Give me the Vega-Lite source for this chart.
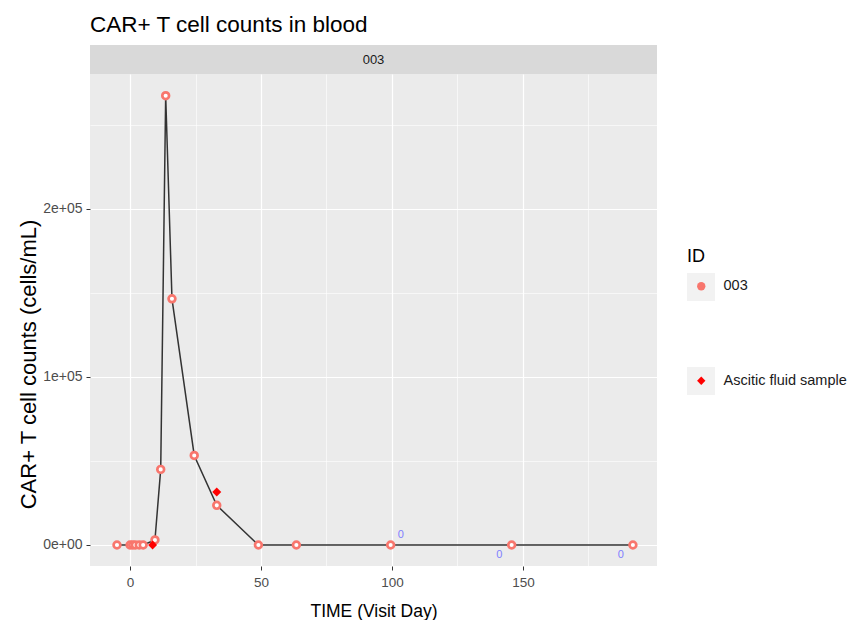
{
  "$schema": "https://vega.github.io/schema/vega-lite/v6.json",
  "background": "white",
  "padding": {"left": 17, "top": 13, "right": 5, "bottom": 0},
  "title": {"text": "CAR+ T cell counts in blood", "anchor": "start", "frame": "group", "fontSize": 22.5, "fontWeight": "normal", "color": "#000000", "offset": 9, "font": "Liberation Sans"},
  "datasets": {
    "blood": [
      {"ID": "003", "day": -5, "count": 0},
      {"ID": "003", "day": 0, "count": 0},
      {"ID": "003", "day": 1, "count": 0},
      {"ID": "003", "day": 2, "count": 0},
      {"ID": "003", "day": 3.5, "count": 0},
      {"ID": "003", "day": 5, "count": 0},
      {"ID": "003", "day": 9.5, "count": 3000},
      {"ID": "003", "day": 11.7, "count": 45000},
      {"ID": "003", "day": 13.6, "count": 267400},
      {"ID": "003", "day": 16, "count": 146500},
      {"ID": "003", "day": 24.5, "count": 53300},
      {"ID": "003", "day": 33.1, "count": 23600},
      {"ID": "003", "day": 49, "count": 0},
      {"ID": "003", "day": 63.5, "count": 0},
      {"ID": "003", "day": 99.5, "count": 0},
      {"ID": "003", "day": 145.7, "count": 0},
      {"ID": "003", "day": 192, "count": 0}
    ],
    "ascitic": [
      {"ID": "Ascitic fluid sample", "day": 8.6, "count": 0},
      {"ID": "Ascitic fluid sample", "day": 33.1, "count": 31500}
    ],
    "zeros": [
      {"day": 103.4, "count": 5800, "label": "0"},
      {"day": 141, "count": -6100, "label": "0"},
      {"day": 187.4, "count": -6100, "label": "0"}
    ],
    "keys": [{"key": "k1"}, {"key": "k2"}],
    "strip": [{"ID": "003"}]
  },
  "spacing": 0,
  "vconcat": [
    {
      "width": 567,
      "height": 29,
      "view": {"fill": "#D9D9D9", "stroke": null},
      "data": {"name": "strip"},
      "mark": {"type": "text", "fontSize": 13, "color": "#1A1A1A", "font": "Liberation Sans"},
      "encoding": {"text": {"field": "ID"}}
    },
    {
      "width": 567,
      "height": 492,
      "view": {"fill": "#EBEBEB", "stroke": null},
      "layer": [
        {
          "data": {"name": "blood"},
          "mark": {"type": "line", "color": "#333333", "strokeWidth": 1.5},
          "encoding": {
            "x": {"field": "day", "type": "quantitative", "scale": {"domain": [-15.3, 201.2], "nice": false, "zero": false},
              "axis": {"orient": "top", "values": [25, 75, 125, 175], "grid": true, "gridColor": "#FFFFFF", "gridWidth": 0.6, "labels": false, "ticks": false, "domain": false, "title": null}},
            "y": {"field": "count", "type": "quantitative", "scale": {"domain": [-12500, 280300], "nice": false, "zero": false},
              "axis": {"orient": "right", "values": [50000, 150000, 250000], "grid": true, "gridColor": "#FFFFFF", "gridWidth": 0.6, "labels": false, "ticks": false, "domain": false, "title": null}}
          }
        },
        {
          "data": {"name": "keys"},
          "mark": {"type": "point", "shape": "square", "filled": true, "opacity": 0},
          "encoding": {
            "fill": {"field": "key", "type": "nominal", "scale": {"domain": ["k1", "k2"], "range": ["#F2F2F2", "#F2F2F2"]},
              "legend": {"orient": "none", "legendX": 597, "legendY": 203, "zindex": 0, "title": "ID", "titleFontSize": 18, "titleFontWeight": "normal", "titleColor": "#000000", "titlePadding": 7, "symbolType": "square", "symbolSize": 784, "symbolStrokeWidth": 0, "rowPadding": 66, "labelExpr": "''", "labelFontSize": 14.5,
                "encode": {"symbols": {"update": {"opacity": {"value": 1}, "fill": {"value": "#F2F2F2"}, "strokeWidth": {"value": 0}}}}}}
          }
        },
        {
          "data": {"name": "blood"},
          "mark": {"type": "point", "shape": "circle", "filled": false, "fill": "#FFFFFF", "fillOpacity": 1, "strokeWidth": 2.7, "size": 46, "opacity": 1},
          "encoding": {
            "x": {"field": "day", "type": "quantitative",
              "axis": {"orient": "bottom", "values": [0, 50, 100, 150], "grid": true, "gridColor": "#FFFFFF", "gridWidth": 1.2, "domain": false, "tickColor": "#333333", "tickSize": 4, "labelColor": "#4D4D4D", "labelFontSize": 13.5, "labelPadding": 5, "title": "TIME (Visit Day)", "titleFontSize": 17.5, "titleColor": "#000000", "titlePadding": 14, "titleFontWeight": "normal"}},
            "y": {"field": "count", "type": "quantitative",
              "axis": {"orient": "left", "values": [0, 100000, 200000], "labelExpr": "replace(format(datum.value, '.0e'), 'e+', 'e+0')", "grid": true, "gridColor": "#FFFFFF", "gridWidth": 1.2, "domain": false, "tickColor": "#333333", "tickSize": 4, "labelColor": "#4D4D4D", "labelFontSize": 14, "labelPadding": 4, "title": "CAR+ T cell counts (cells/mL)", "titleFontSize": 22, "titleColor": "#000000", "titlePadding": 2, "titleY": 290, "titleFontWeight": "normal"}},
            "color": {"field": "ID", "type": "nominal", "scale": {"domain": ["003", "Ascitic fluid sample"], "range": ["#F8766D", "#FF0000"]},
              "legend": {"orient": "none", "legendX": 604, "legendY": 234, "zindex": 1, "title": null, "labelFontSize": 14.5, "labelColor": "#1A1A1A", "symbolSize": 70, "symbolStrokeWidth": 0, "rowPadding": 79.5, "labelOffset": 15,
                "encode": {
                  "symbols": {"update": {"fill": {"scale": "color", "field": "value"}, "strokeWidth": {"value": 0}, "opacity": {"value": 1}}}
                }}}
          }
        },
        {
          "data": {"name": "ascitic"},
          "mark": {"type": "point", "filled": true, "size": 80, "opacity": 1},
          "encoding": {
            "x": {"field": "day", "type": "quantitative", "axis": null},
            "y": {"field": "count", "type": "quantitative", "axis": null},
            "color": {"field": "ID", "type": "nominal"},
            "shape": {"field": "ID", "type": "nominal", "scale": {"domain": ["003", "Ascitic fluid sample"], "range": ["circle", "diamond"]}}
          }
        },
        {
          "data": {"name": "zeros"},
          "mark": {"type": "text", "fontSize": 11, "color": "#7F7FFF", "font": "Liberation Sans"},
          "encoding": {
            "x": {"field": "day", "type": "quantitative", "axis": null},
            "y": {"field": "count", "type": "quantitative", "axis": null},
            "text": {"field": "label"}
          }
        }
      ],
      "resolve": {"axis": {"x": "independent", "y": "independent"}}
    }
  ],
  "config": {
    "font": "Liberation Sans",
    "view": {"stroke": null},
    "axis": {"labelFont": "Liberation Sans", "titleFont": "Liberation Sans"},
    "legend": {"labelFont": "Liberation Sans", "titleFont": "Liberation Sans"}
  }
}
